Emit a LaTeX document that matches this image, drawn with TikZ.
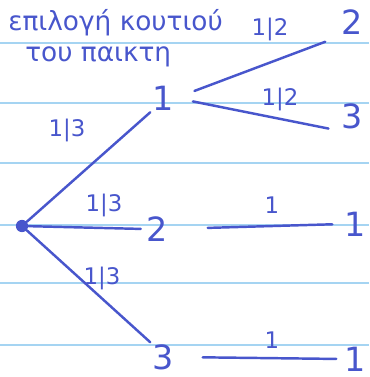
\documentclass[tikz,border=0pt]{standalone}
\usepackage{fontspec}
\setmainfont{DejaVu Sans}
\definecolor{pen}{RGB}{72,86,204}
\definecolor{paper}{RGB}{165,212,242}
\begin{document}
\begin{tikzpicture}[x=0.02cm,y=-0.02cm]
	\tikzset{ink/.style={color=pen,line width=1.4pt,line cap=round},
		num/.style={text=pen,font=\fontsize{19}{19}\selectfont,inner sep=1pt},
		prob/.style={text=pen,font=\fontsize{13}{13}\selectfont,inner sep=1pt},
		greek/.style={text=pen,font=\fontsize{15}{15}\selectfont,inner sep=0pt,anchor=west}}
	\useasboundingbox (0,0) rectangle (369,377);
	\foreach \y in {43,103,163,225,283,345}
	\draw[color=paper,line width=0.7pt] (0,\y)--(369,\y);
	
	\node[greek] (t1) at (8,23) {επιλογή κουτιού};
	\node[greek] (t2) at (25,57) {του παικτη};
	
	\node[circle,fill=pen,inner sep=0pt,minimum size=7pt] (O) at (22,226) {};
	\node[num] (A) at (163,98) {1};
	\node[num] (B) at (157,229) {2};
	\node[num] (C) at (163,357) {3};
	\node[num] (A2) at (352,22) {2};
	\node[num] (A3) at (352,116) {3};
	\node[num] (B1) at (355,224) {1};
	\node[num] (C1) at (355,359) {1};
	
	\draw[ink] (O)--(A.south west);
	\draw[ink,shorten >=2pt] (O)--(B.west);
	\draw[ink] (O)--(C.north west);
	\node[prob] (pA) at (67,130) {1|3};
	\node[prob] (pB) at (104,205) {1|3};
	\node[prob] (pC) at (102,278) {1|3};
	
	\draw[ink,shorten <=0.4cm,shorten >=0.3cm] (A.east)--(A2.south west);
	\draw[ink,shorten <=0.35cm,shorten >=0.22cm] (A.east)--(A3.south west);
	\draw[ink,shorten <=0.76cm,shorten >=0.2cm] (B.east)--(B1.west);
	\draw[ink,shorten <=0.54cm,shorten >=0.12cm] (C.east)--(C1.west);
	\node[prob] (pA2) at (270,29) {1|2};
	\node[prob] (pA3) at (280,99) {1|2};
	\node[prob] (pB1) at (272,205) {1};
	\node[prob] (pC1) at (272,340) {1};
	
\end{tikzpicture}
\end{document}
